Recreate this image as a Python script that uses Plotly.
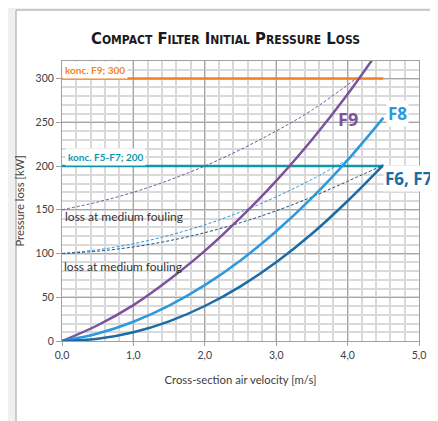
import plotly.graph_objects as go

# ---- data ----
v_f9 = [0, 0.5, 1.0, 1.5, 2.0, 2.5, 3.0, 3.5, 4.0, 4.35]
p_f9 = [0, 18, 41, 70, 103, 141, 183, 230, 282, 322]

v_f8 = [0, 0.5, 1.0, 1.5, 2.0, 2.5, 3.0, 3.5, 4.0, 4.5]
p_f8 = [0, 8.5, 22, 40.4, 63.8, 92.1, 125.4, 163.6, 206.8, 255]

v_f67 = [0, 0.5, 1.0, 1.5, 2.0, 2.5, 3.0, 3.5, 4.0, 4.5]
p_f67 = [0, 2.5, 10, 22.5, 40, 62.5, 90, 122.5, 160, 201]

v_f9_foul = [0, 0.5, 1.0, 1.5, 2.0, 2.5, 3.0, 3.5, 4.12]
p_f9_foul = [150, 158.8, 170, 183.8, 200, 218.8, 240, 263.8, 300]

v_f8_foul = [0, 0.5, 1.0, 1.5, 2.0, 2.5, 3.0, 3.5, 4.1]
p_f8_foul = [100, 104.3, 111.2, 120.7, 132.8, 147.5, 164.8, 184.7, 212]

v_f67_foul = [0, 0.5, 1.0, 1.5, 2.0, 2.5, 3.0, 3.5, 4.0, 4.5]
p_f67_foul = [100, 102.7, 107.5, 114.6, 123.8, 135.2, 148.8, 164.6, 182.6, 201]

limit_v = [0, 4.5]
limit_f9 = [300, 300]
limit_f57 = [200, 200]

x_tickvals = [0, 1, 2, 3, 4, 5]
x_ticktext = ["0,0", "1,0", "2,0", "3,0", "4,0", "5,0"]
y_tickvals = [0, 50, 100, 150, 200, 250, 300]

PURPLE = "#7B539D"
LBLUE = "#2A99DE"
DBLUE = "#1B6CA5"
NAVY = "#1F4E79"
ORANGE = "#F58220"
TEAL = "#0E97A8"
FONT = "Lato, Open Sans, sans-serif"

fig = go.Figure()

def line(x, y, color, width, dash=None):
    fig.add_trace(go.Scatter(x=x, y=y, mode="lines", line=dict(color=color, width=width, dash=dash, shape="spline"),
                             hoverinfo="skip", showlegend=False))

line(limit_v, limit_f9, ORANGE, 2.5)
line(limit_v, limit_f57, TEAL, 2.5)
line(v_f9_foul, p_f9_foul, PURPLE, 1, "3px,2px")
line(v_f8_foul, p_f8_foul, LBLUE, 1, "3px,2px")
line(v_f67_foul, p_f67_foul, NAVY, 1, "3px,2px")
line(v_f9, p_f9, PURPLE, 2.5)
line(v_f8, p_f8, LBLUE, 2.5)
line(v_f67, p_f67, DBLUE, 2.5)

ann = []
def small_caps(words, small=12):
    parts = []
    for w in words:
        parts.append(w[0] + "<span style='font-size:%spx'>%s</span>" % (small, w[1:].upper()))
    return "<b>" + " ".join(parts) + "</b>"

# plot area in figure pixels: x 49..414, y 53..333 (page has 8px body margin)
ann.append(dict(xref="paper", yref="paper", x=0.458, y=1.079, xanchor="center", yanchor="middle",
                text=small_caps(["Compact", "Filter", "Initial", "Pressure", "Loss"]),
                showarrow=False, font=dict(family="DejaVu Sans Condensed, Liberation Sans Narrow, sans-serif", size=16.5, color="#1a1a1a")))
ann.append(dict(x=0, y=310, xref="x", yref="y", xanchor="left", yanchor="middle", text="<b>konc. F9; 300</b>",
                showarrow=False, bgcolor="white", borderpad=2, font=dict(family=FONT, size=10, color=ORANGE)))
ann.append(dict(x=0.04, y=210, xref="x", yref="y", xanchor="left", yanchor="middle", text="<b>konc. F5-F7; 200</b>",
                showarrow=False, bgcolor="white", borderpad=2, font=dict(family=FONT, size=10, color=TEAL)))
ann.append(dict(x=0.02, y=142.5, xref="x", yref="y", xanchor="left", yanchor="middle", text="loss at medium fouling",
                showarrow=False, font=dict(family=FONT, size=12, color="#333333")))
ann.append(dict(x=0, y=85.5, xref="x", yref="y", xanchor="left", yanchor="middle", text="loss at medium fouling",
                showarrow=False, font=dict(family=FONT, size=12, color="#333333")))
ann.append(dict(x=4.0, y=254, xref="x", yref="y", xanchor="center", yanchor="middle", text="<b>F9</b>",
                showarrow=False, font=dict(family="Open Sans, sans-serif", size=18, color=PURPLE)))
ann.append(dict(x=4.7, y=260, xref="x", yref="y", xanchor="center", yanchor="middle", text="<b>F8</b>",
                showarrow=False, bgcolor="white", font=dict(family="Open Sans, sans-serif", size=17, color=LBLUE)))
ann.append(dict(x=4.86, y=186, xref="x", yref="y", xanchor="center", yanchor="middle", text="<b>F6, F7</b>",
                showarrow=False, bgcolor="white", font=dict(family="Open Sans, sans-serif", size=17, color=DBLUE)))

fig.update_layout(
    width=430, height=413,
    margin=dict(l=49, r=16, t=53, b=80),
    paper_bgcolor="#f0f0f0",
    plot_bgcolor="white",
    font=dict(family=FONT, size=10.5, color="#404040"),
    annotations=ann,
    shapes=[dict(type="rect", xref="paper", yref="paper", x0=-0.1288, x1=1.07, y0=-0.32, y1=1.182,
                 fillcolor="white", line=dict(color="#a0a0a0", width=1), layer="below")],
    xaxis=dict(range=[0, 5], tickvals=x_tickvals, ticktext=x_ticktext, showgrid=True, gridcolor="#a6a6a6", gridwidth=1,
               minor=dict(dtick=0.2, showgrid=True, gridcolor="#d9d9d9", gridwidth=1.5),
               ticks="outside", ticklen=4, tickcolor="#a0a0a0", showline=True, linecolor="#a0a0a0", mirror=True,
               zeroline=False, title=dict(text="Cross-section air velocity [m/s]", standoff=16, font=dict(size=11.3)),
               tickfont=dict(size=10.5)),
    yaxis=dict(range=[0, 320], tickvals=y_tickvals, showgrid=True, gridcolor="#a6a6a6", gridwidth=1,
               minor=dict(dtick=10, showgrid=True, gridcolor="#d9d9d9", gridwidth=1.5),
               ticks="outside", ticklen=5, tickcolor="#a0a0a0", showline=True, linecolor="#a0a0a0", mirror=True,
               zeroline=False, title=dict(text="Pressure loss [kW]", standoff=8, font=dict(size=11.3)),
               tickfont=dict(size=10.5)),
)

fig.write_html("out.html")
